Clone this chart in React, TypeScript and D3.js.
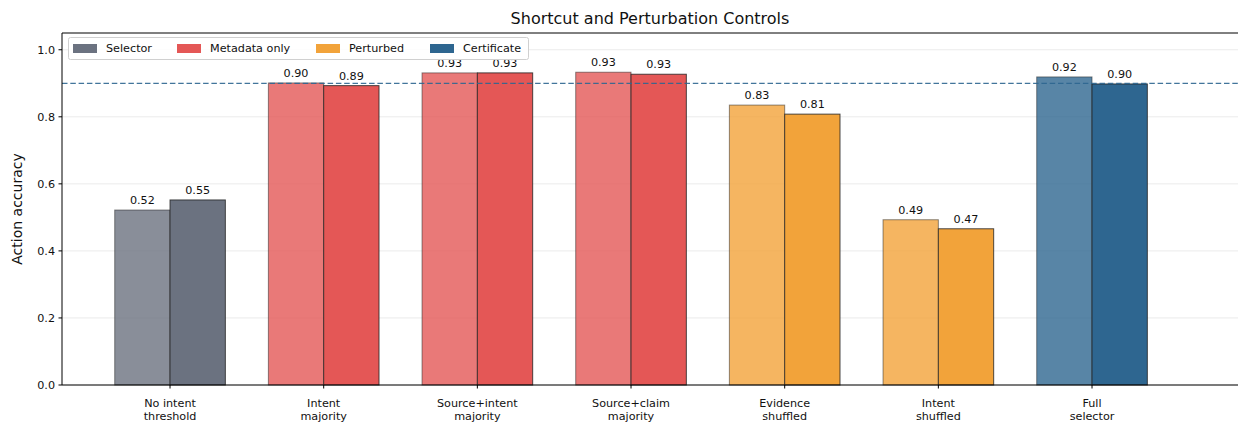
import React from 'react'
import * as d3 from 'd3'

// data
const categories = [
  'No intent\nthreshold',
  'Intent\nmajority',
  'Source+intent\nmajority',
  'Source+claim\nmajority',
  'Evidence\nshuffled',
  'Intent\nshuffled',
  'Full\nselector',
]
const firstValues = [0.522, 0.901, 0.931, 0.933, 0.835, 0.493, 0.919]
const secondValues = [0.552, 0.893, 0.931, 0.927, 0.808, 0.466, 0.898]
const groupKind = [0, 1, 1, 1, 2, 2, 3]
const legendLabels = ['Selector', 'Metadata only', 'Perturbed', 'Certificate']
const palette = ['#6b7280', '#e45756', '#f2a33a', '#2e6690']
const yTicks = [0, 0.2, 0.4, 0.6, 0.8, 1.0]
const certificateLine = 0.9

const W = 1238
const H = 423
const margin = { left: 62, right: 0, top: 33, bottom: 38 }
const FONT = 'DejaVu Sans, sans-serif'

export default function App() {
  const x = d3.scaleLinear().domain([-0.703, 6.95]).range([margin.left, W - margin.right])
  const y = d3.scaleLinear().domain([0, 1.05]).range([H - margin.bottom, margin.top])
  const bw = x(0.36) - x(0)
  const legendX = [73, 177, 316, 430]

  return (
    <svg width={W} height={H} style={{ position: 'absolute', left: 0, top: 0, background: '#fff' }} fontFamily={FONT}>
      {/* grid */}
      {yTicks.map(t => (
        <line key={'g' + t} x1={x.range()[0]} x2={x.range()[1]} y1={y(t)} y2={y(t)} stroke="#e6e6e6" strokeWidth={0.8} />
      ))}
      {/* bars */}
      {categories.map((c, i) => {
        const col = palette[groupKind[i]]
        return (
          <g key={c}>
            <rect x={x(i - 0.36)} y={y(firstValues[i])} width={bw} height={y(0) - y(firstValues[i])}
              fill={col} fillOpacity={0.8} stroke="#222" strokeOpacity={0.5} strokeWidth={1} />
            <rect x={x(i)} y={y(secondValues[i])} width={bw} height={y(0) - y(secondValues[i])}
              fill={col} stroke="#222" strokeOpacity={0.8} strokeWidth={1} />
            <text x={x(i - 0.18)} y={y(firstValues[i]) - 6} textAnchor="middle" fontSize={11.2} fill="#111">
              {firstValues[i].toFixed(2)}
            </text>
            <text x={x(i + 0.18)} y={y(secondValues[i]) - 6} textAnchor="middle" fontSize={11.2} fill="#111">
              {secondValues[i].toFixed(2)}
            </text>
          </g>
        )
      })}
      {/* reference line */}
      <line x1={x.range()[0]} x2={x.range()[1]} y1={y(certificateLine)} y2={y(certificateLine)}
        stroke="#2e6690" strokeOpacity={0.9} strokeWidth={1.3} strokeDasharray="5.5,2.8" />
      {/* spines */}
      <line x1={margin.left} x2={margin.left} y1={margin.top} y2={y(0)} stroke="#000" strokeWidth={1} />
      <line x1={margin.left} x2={W} y1={margin.top} y2={margin.top} stroke="#000" strokeWidth={1} />
      <line x1={margin.left} x2={W} y1={y(0)} y2={y(0)} stroke="#000" strokeWidth={1} />
      {/* y axis */}
      {yTicks.map(t => (
        <g key={'y' + t}>
          <line x1={margin.left - 3.5} x2={margin.left} y1={y(t)} y2={y(t)} stroke="#000" />
          <text x={margin.left - 7} y={y(t)} dy="0.35em" textAnchor="end" fontSize={11.2} fill="#111">{t.toFixed(1)}</text>
        </g>
      ))}
      <text transform={`translate(22,${(y(0) + y(1.05)) / 2}) rotate(-90)`} textAnchor="middle" fontSize={14} fill="#111">
        Action accuracy
      </text>
      {/* x axis */}
      {categories.map((c, i) => (
        <g key={'x' + i}>
          <line x1={x(i)} x2={x(i)} y1={y(0)} y2={y(0) + 3.5} stroke="#000" />
          {c.split('\n').map((ln, j) => (
            <text key={j} x={x(i)} y={y(0) + 22 + j * 12.5} textAnchor="middle" fontSize={11.2} fill="#111">{ln}</text>
          ))}
        </g>
      ))}
      <text x={(margin.left + W) / 2} y={24} textAnchor="middle" fontSize={16} fill="#111">
        Shortcut and Perturbation Controls
      </text>
      {/* legend */}
      <rect x={68.5} y={37.5} width={460} height={22} rx={2} fill="#fff" fillOpacity={0.85} stroke="#d0d0d0" />
      {legendLabels.map((l, k) => (
        <g key={l}>
          <rect x={legendX[k]} y={44} width={24} height={9} fill={palette[k]} />
          <text x={legendX[k] + 33} y={48.5} dy="0.35em" fontSize={11.2} fill="#111">{l}</text>
        </g>
      ))}
    </svg>
  )
}
